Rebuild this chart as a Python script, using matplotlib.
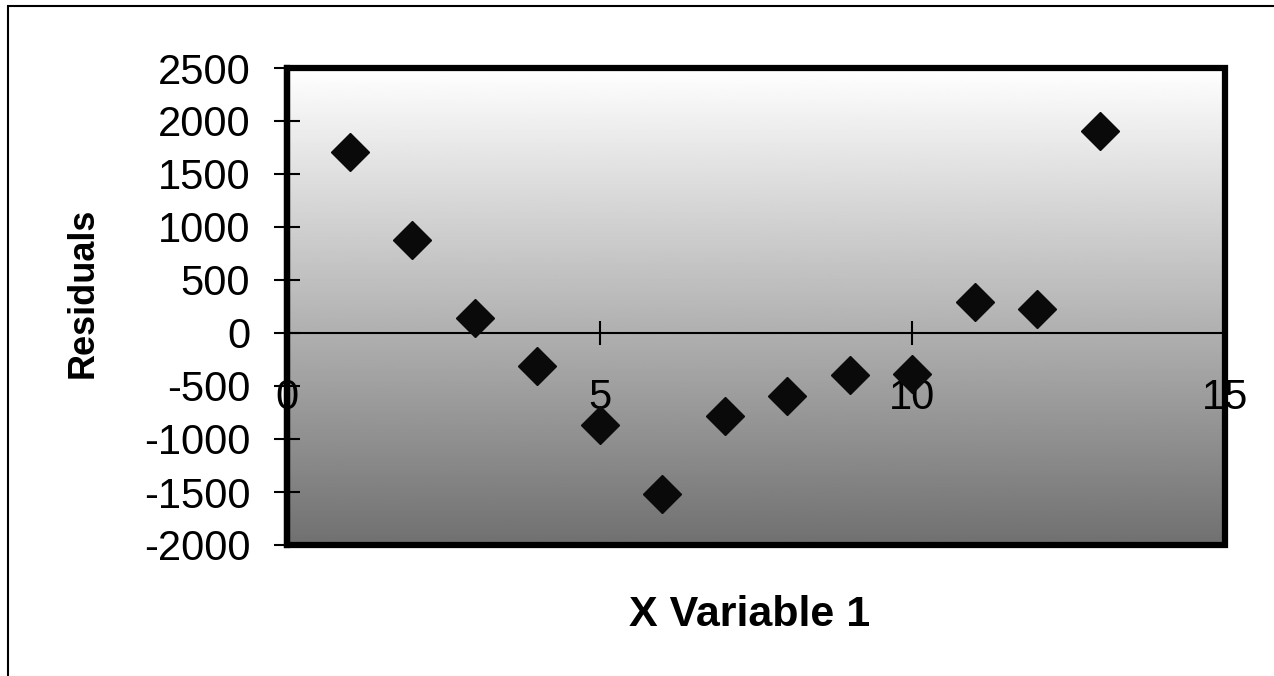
import matplotlib.pyplot as plt
import numpy as np
from matplotlib.patches import Rectangle

plt.rcParams['font.family'] = ['Liberation Sans', 'DejaVu Sans']
plt.rcParams['axes.unicode_minus'] = False

x_vals = [1, 2, 3, 4, 5, 6, 7, 8, 9, 10, 11, 12, 13]
residuals = [1710, 880, 140, -310, -870, -1520, -780, -590, -400, -390, 290, 230, 1910]
x_ticks = [0, 5, 10, 15]
y_ticks = [-2000, -1500, -1000, -500, 0, 500, 1000, 1500, 2000, 2500]

fig = plt.figure(figsize=(12.74, 6.76), dpi=100)
ax = fig.add_axes([287/1274, 1-545/676, (1225-287)/1274, (545-68)/676])

# grey gradient background, light at top, dark at bottom
grad = np.linspace(0, 1, 256).reshape(-1, 1)
ax.imshow(grad, cmap='gray_r', vmin=0, vmax=1/0.56, aspect='auto',
          extent=[0, 1, 0, 1], transform=ax.transAxes, zorder=0)

ax.plot(x_vals, residuals, linestyle='none', marker='D', markersize=19.5,
        color='#0a0a0a', zorder=3)

ax.set_xlim(0, 15)
ax.set_ylim(-2000, 2500)
ax.set_xticks(x_ticks)
ax.set_yticks(y_ticks)

ax.spines['bottom'].set_position(('data', 0))
ax.spines['bottom'].set_linewidth(1.5)
ax.spines['left'].set_linewidth(4.5)
ax.spines['top'].set_visible(False)
ax.spines['right'].set_visible(False)
ax.add_patch(Rectangle((0, 0), 1, 1, transform=ax.transAxes, fill=False,
                       lw=4.5, edgecolor='black', zorder=4, clip_on=False))

ax.tick_params(axis='y', direction='inout', length=19, width=1.5,
               labelsize=30, pad=17)
ax.tick_params(axis='x', direction='inout', length=17, width=1.5,
               labelsize=30, pad=24)

fig.text(83/1274, 1-293/676, 'Residuals', rotation=90, ha='center',
         va='center', fontsize=26, fontweight='bold')
fig.text(750/1274, 1-615/676, 'X Variable 1', ha='center', va='center',
         fontsize=31, fontweight='bold')

# outer chart border
fig.add_artist(Rectangle((8/1274, -0.05), 1.2, 1-6/676+0.05,
                         transform=fig.transFigure, fill=False, lw=1.5,
                         edgecolor='black'))

fig.savefig('out.png', dpi=100)
